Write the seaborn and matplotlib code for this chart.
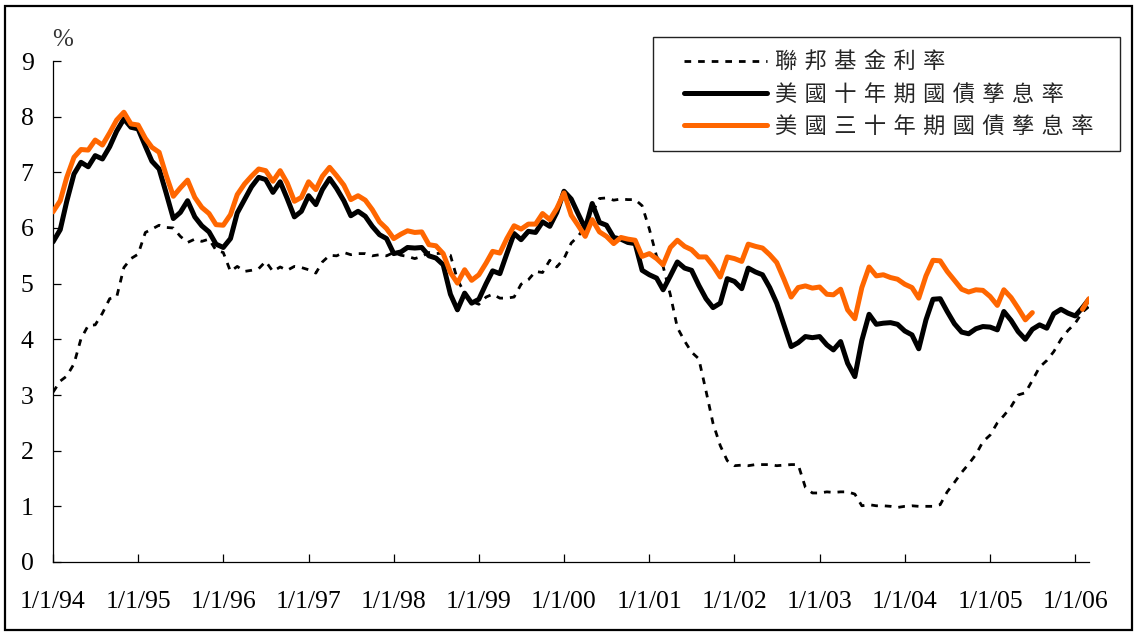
import numpy as np
import pandas as pd
import matplotlib
matplotlib.use("Agg")
import matplotlib.pyplot as plt
import matplotlib.dates as mdates
import seaborn as sns
from matplotlib.lines import Line2D
from matplotlib.legend_handler import HandlerLine2D
from matplotlib.patches import Rectangle
from matplotlib.font_manager import FontProperties

nan = np.nan

# Monthly averages, Jan 1994 - Mar 2006 (%)
months = pd.date_range("1994-01-01", "2006-03-01", freq="MS")

fed_funds = [
    3.05, 3.25, 3.34, 3.56, 4.01, 4.25, 4.26, 4.47, 4.73, 4.76, 5.29, 5.45,
    5.53, 5.92, 5.98, 6.05, 6.01, 6.00, 5.85, 5.74, 5.80, 5.76, 5.80, 5.60,
    5.56, 5.22, 5.31, 5.22, 5.24, 5.27, 5.40, 5.22, 5.30, 5.24, 5.31, 5.29,
    5.25, 5.19, 5.39, 5.51, 5.50, 5.56, 5.52, 5.54, 5.54, 5.50, 5.52, 5.50,
    5.56, 5.51, 5.49, 5.45, 5.49, 5.56, 5.54, 5.55, 5.51, 5.07, 4.83, 4.68,
    4.63, 4.76, 4.81, 4.74, 4.74, 4.76, 4.99, 5.07, 5.22, 5.20, 5.42, 5.30,
    5.45, 5.73, 5.85, 6.02, 6.27, 6.53, 6.54, 6.50, 6.52, 6.51, 6.51, 6.40,
    5.98, 5.49, 5.31, 4.80, 4.21, 3.97, 3.77, 3.65, 3.07, 2.49, 2.09, 1.82,
    1.73, 1.74, 1.73, 1.75, 1.75, 1.75, 1.73, 1.74, 1.75, 1.75, 1.34, 1.24,
    1.24, 1.26, 1.25, 1.26, 1.26, 1.22, 1.01, 1.03, 1.01, 1.01, 1.00, 0.98,
    1.00, 1.01, 1.00, 1.00, 1.00, 1.03, 1.26, 1.43, 1.61, 1.76, 1.93, 2.16,
    2.28, 2.50, 2.63, 2.79, 3.00, 3.04, 3.26, 3.50, 3.62, 3.78, 4.00, 4.16,
    4.29, 4.49, 4.59,
]

ten_year = [
    5.75, 5.97, 6.48, 6.97, 7.18, 7.10, 7.30, 7.24, 7.46, 7.74, 7.96, 7.81,
    7.78, 7.47, 7.20, 7.06, 6.63, 6.17, 6.28, 6.49, 6.20, 6.04, 5.93, 5.71,
    5.65, 5.81, 6.27, 6.51, 6.74, 6.91, 6.87, 6.64, 6.83, 6.53, 6.20, 6.30,
    6.58, 6.42, 6.69, 6.89, 6.71, 6.49, 6.22, 6.30, 6.21, 6.03, 5.88, 5.81,
    5.54, 5.57, 5.65, 5.64, 5.65, 5.50, 5.46, 5.34, 4.81, 4.53, 4.83, 4.65,
    4.72, 5.00, 5.23, 5.18, 5.54, 5.90, 5.79, 5.94, 5.92, 6.11, 6.03, 6.28,
    6.66, 6.52, 6.26, 5.99, 6.44, 6.10, 6.05, 5.83, 5.80, 5.74, 5.72, 5.24,
    5.16, 5.10, 4.89, 5.14, 5.39, 5.28, 5.24, 4.97, 4.73, 4.57, 4.65, 5.09,
    5.04, 4.91, 5.28, 5.21, 5.16, 4.93, 4.65, 4.26, 3.87, 3.94, 4.05, 4.03,
    4.05, 3.90, 3.81, 3.96, 3.57, 3.33, 3.98, 4.45, 4.27, 4.29, 4.30, 4.27,
    4.15, 4.08, 3.83, 4.35, 4.72, 4.73, 4.50, 4.28, 4.13, 4.10, 4.19, 4.23,
    4.22, 4.17, 4.50, 4.34, 4.14, 4.00, 4.18, 4.26, 4.20, 4.46, 4.54, 4.47,
    4.42, 4.57, 4.72,
]

thirty_year = [
    6.29, 6.49, 6.91, 7.27, 7.41, 7.40, 7.58, 7.49, 7.71, 7.94, 8.08, 7.87,
    7.85, 7.61, 7.45, 7.36, 6.95, 6.57, 6.72, 6.86, 6.55, 6.37, 6.26, 6.06,
    6.05, 6.24, 6.60, 6.79, 6.93, 7.06, 7.03, 6.84, 7.03, 6.81, 6.48, 6.55,
    6.83, 6.69, 6.93, 7.09, 6.94, 6.77, 6.51, 6.58, 6.50, 6.33, 6.11, 5.99,
    5.81, 5.89, 5.95, 5.92, 5.93, 5.70, 5.68, 5.54, 5.20, 5.01, 5.25, 5.06,
    5.16, 5.37, 5.58, 5.55, 5.81, 6.04, 5.98, 6.07, 6.07, 6.26, 6.15, 6.35,
    6.63, 6.23, 6.05, 5.85, 6.15, 5.93, 5.85, 5.72, 5.83, 5.80, 5.78, 5.49,
    5.54, 5.45, 5.34, 5.65, 5.78, 5.67, 5.61, 5.48, 5.48, 5.32, 5.12, 5.48,
    5.45, 5.40, 5.71, 5.67, 5.64, 5.52, 5.38, 5.08, 4.76, 4.93, 4.96, 4.92,
    4.94, 4.81, 4.80, 4.90, 4.53, 4.37, 4.93, 5.30, 5.14, 5.16, 5.11, 5.08,
    4.99, 4.93, 4.74, 5.14, 5.42, 5.41, 5.22, 5.06, 4.90, 4.85, 4.89, 4.88,
    4.77, 4.61, 4.89, 4.75, 4.56, 4.35, 4.48, nan, nan, nan, nan, nan,
    nan, 4.54, 4.73,
]

tick_years = list(range(1994, 2007))
tick_labels = [f"1/1/{y % 100:02d}" for y in tick_years]
# legend captions, set with a wide inter-character space
GAP = "\u2004"
series_names = [
    GAP.join("聯邦基金利率"),
    GAP.join("美國十年期國債孳息率"),
    GAP.join("美國三十年期國債孳息率"),
]

df = pd.DataFrame({
    "date": months,
    "fed": fed_funds,
    "t10": ten_year,
    "t30": thirty_year,
})
# split the 30-year series where it has no quotes so the gap is not bridged
df["t30_part"] = df["t30"].isna().cumsum()

sns.set_style("white")
plt.rcParams["font.family"] = ["Liberation Serif", "Noto Sans CJK TC", "DejaVu Sans"]

W, H = 1136, 633
fig = plt.figure(figsize=(W / 100, H / 100), dpi=100)
ax = fig.add_axes([53 / W, 71 / H, 1036 / W, 501 / H])

ORANGE = "#FF6600"

sns.lineplot(data=df, x="date", y="fed", ax=ax, color="black",
             linewidth=2.0, linestyle=(0, (2.4, 2.5)), label=series_names[0],
             zorder=2)
sns.lineplot(data=df, x="date", y="t10", ax=ax, color="black",
             linewidth=3.6, label=series_names[1], zorder=3,
             solid_capstyle="round", solid_joinstyle="round")
first = True
for _, part in df.dropna(subset=["t30"]).groupby("t30_part"):
    sns.lineplot(data=part, x="date", y="t30", ax=ax, color=ORANGE,
                 linewidth=3.6, label=series_names[2] if first else None,
                 zorder=4, solid_capstyle="round", solid_joinstyle="round")
    first = False

ax.set_xlim(months[0], months[-1])
ax.set_ylim(0, 9)
ax.set_yticks(range(10))
ax.set_xticks([mdates.date2num(pd.Timestamp(f"{y}-01-01")) for y in tick_years])
ax.set_xticklabels(tick_labels)
ax.set_xlabel("")
ax.set_ylabel("")

for side in ("top", "right"):
    ax.spines[side].set_visible(False)
for side in ("left", "bottom"):
    ax.spines[side].set_color("black")
    ax.spines[side].set_linewidth(0.9)

ax.tick_params(axis="y", direction="in", length=6, width=0.9, pad=14,
               labelsize=18.5, colors="black", left=True)
ax.tick_params(axis="x", direction="in", length=6, width=0.9, pad=21,
               labelsize=18.5, colors="black", bottom=True)

ax.annotate("%", xy=(10 / 1036, 1 + 21 / 501), xycoords="axes fraction",
            ha="center", va="center", fontsize=18, color="#333333")

handles, labels = ax.get_legend_handles_labels()
leg = ax.legend(
    handles, labels,
    loc="upper left", mode="expand",
    bbox_to_anchor=(653 / W, 1 - 149 / H, 467 / W, 112 / H),
    bbox_transform=fig.transFigure,
    prop=FontProperties(family=["Noto Sans CJK TC", "DejaVu Sans"], size=16),
    frameon=True, fancybox=False, framealpha=1,
    edgecolor="#222222", borderpad=0.6, borderaxespad=0,
    handlelength=4.55, handletextpad=0.35, labelspacing=0.42,
    handler_map={Line2D: HandlerLine2D(xpad=0.8)},
)
leg.get_frame().set_linewidth(1.0)

# outer frame of the figure
fig.patches.append(Rectangle((5 / W, 3 / H), 1127 / W, 624 / H,
                             transform=fig.transFigure, fill=False,
                             edgecolor="black", linewidth=1.6))

fig.savefig("out.png", dpi=100)
